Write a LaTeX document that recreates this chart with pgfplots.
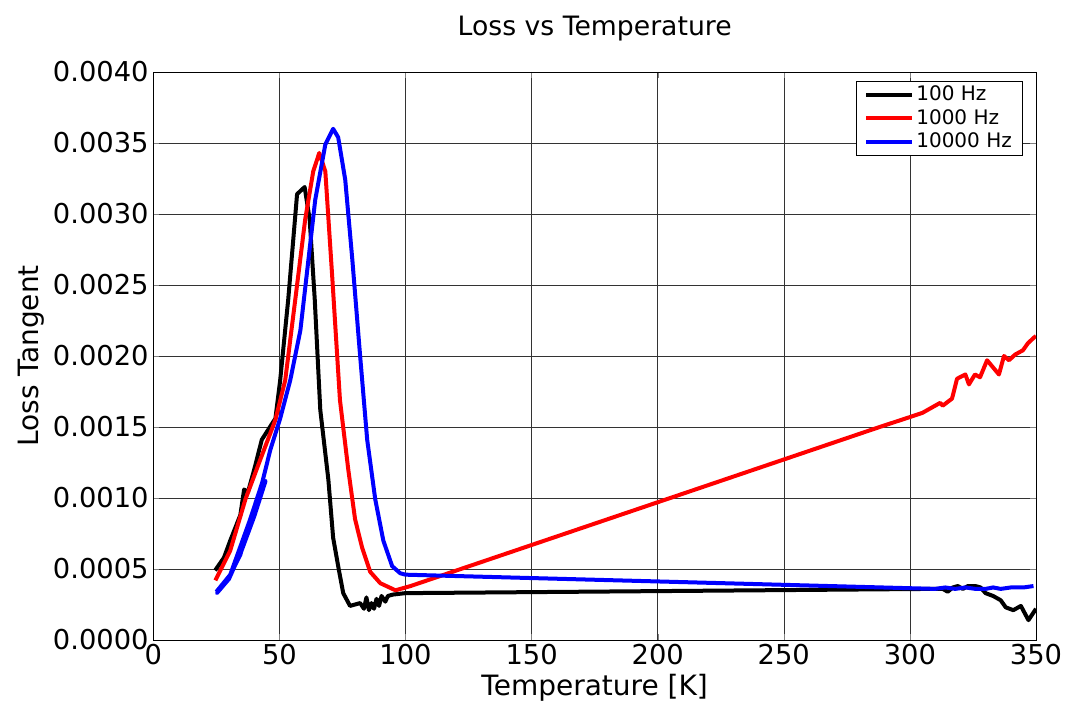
\documentclass[border=0pt]{standalone}
\usepackage{pgfplots}
\pgfplotsset{compat=1.18}
\usepackage{fontspec}
\setmainfont{DejaVu Sans}
\begin{document}
\begin{tikzpicture}
\begin{axis}[
  name=ax,
  width=662pt, height=426pt, scale only axis,
  xmin=0, xmax=350, ymin=0, ymax=0.004,
  xtick={0,50,...,350}, ytick={0,0.0005,...,0.004},
  grid=major, grid style={black!80, thin},
  /pgf/number format/assume math mode=true,
  yticklabel style={/pgf/number format/.cd, fixed, fixed zerofill, precision=4},
  scaled y ticks=false,
  ticklabel style={font=\fontsize{20.5}{22}\selectfont},
  xlabel={Temperature [K]}, ylabel={Loss Tangent},
  label style={font=\fontsize{21}{23}\selectfont},
  title={Loss vs Temperature}, title style={font=\fontsize{20}{22}\selectfont, yshift=14pt},
  legend pos=north east,
  legend style={font=\fontsize{15}{17}\selectfont, draw=black, row sep=1pt, inner xsep=6pt, at={(0.985,0.985)}},
  legend image code/.code={\draw[#1] (0pt,0pt) -- (34pt,0pt);},
  legend cell align=left,
  every axis plot/.append style={line width=3pt, line join=round},
]
\addplot[black] coordinates {
(24.5,0.00049)(28,0.00058)(30.5,0.0007)(34.5,0.00088)(36,0.00106)(37.5,0.00104)(40,0.00120)(43,0.00141)(48.4,0.00156)(50.3,0.00183)(53.5,0.0024)(57,0.00314)(60,0.00319)(62,0.00296)(64,0.0024)(66.2,0.00162)(69.4,0.00113)(71.3,0.00072)(73.5,0.00050)(75.3,0.00033)(78,0.00024)(82,0.00026)(83.5,0.00022)(84.5,0.00030)(85.5,0.00021)(86.5,0.00026)(87.5,0.00022)(88.5,0.00029)(89.5,0.00024)(90.5,0.00031)(92,0.00027)(93,0.00031)(95,0.00032)(100,0.00033)(310,0.00036)(313,0.00036)(315,0.00034)(317,0.00037)(319,0.00038)(321,0.00036)(323,0.00038)(326,0.00038)(328,0.00037)(330,0.00033)(333,0.00031)(336,0.00028)(338,0.00023)(341,0.00021)(344,0.00024)(347,0.00014)(350,0.00022)
};
\addlegendentry{100 Hz}
\addplot[red] coordinates {
(24.6,0.00042)(30.5,0.00063)(36.5,0.00099)(42.4,0.00127)(48.4,0.00155)(52.3,0.00183)(56.3,0.0024)(60.2,0.00296)(63.4,0.0033)(65.8,0.00343)(68.2,0.0033)(71,0.00254)(74,0.00169)(77.3,0.0012)(80,0.00085)(82.8,0.00065)(86,0.00048)(90,0.0004)(96,0.00035)(102,0.00038)(288,0.0015)(300,0.00157)(305,0.0016)(312,0.00167)(313,0.00165)(316.7,0.0017)(318.7,0.00184)(322,0.00187)(323.4,0.0018)(325.8,0.00187)(327.8,0.00185)(330.6,0.00197)(335.3,0.00187)(337.3,0.002)(339.3,0.00197)(341.7,0.00201)(344.8,0.00204)(346.8,0.00209)(349.2,0.00213)(350,0.00214)
};
\addlegendentry{1000 Hz}
\addplot[blue] coordinates {
(25,0.00034)(30.5,0.00046)(34.5,0.0006)(38.4,0.00085)(43.2,0.00111)(44.5,0.00112)(40,0.00087)(35,0.00063)(30,0.00043)(25.2,0.00033)(30.5,0.00046)(38.4,0.00085)(43.2,0.00111)(46.4,0.00134)(50.3,0.00156)(54.3,0.00183)(58.3,0.00218)(61,0.0026)(64.2,0.0031)(68.2,0.00349)(71.3,0.0036)(73.3,0.00354)(76.1,0.00324)(78.9,0.00268)(82,0.002)(84.8,0.00141)(88,0.00099)(91.2,0.0007)(94.7,0.00052)(97.9,0.00047)(100,0.00046)(310,0.00036)(314,0.00037)(318,0.00036)(322,0.00037)(326,0.00036)(330,0.00036)(333,0.00037)(336,0.00036)(340,0.00037)(345,0.00037)(349,0.00038)
};
\addlegendentry{10000 Hz}
\end{axis}
\pgfresetboundingbox
\path[use as bounding box] ([shift={(-115pt,-60pt)}]ax.south west) rectangle ([shift={(33pt,54pt)}]ax.north east);
\end{tikzpicture}
\end{document}
